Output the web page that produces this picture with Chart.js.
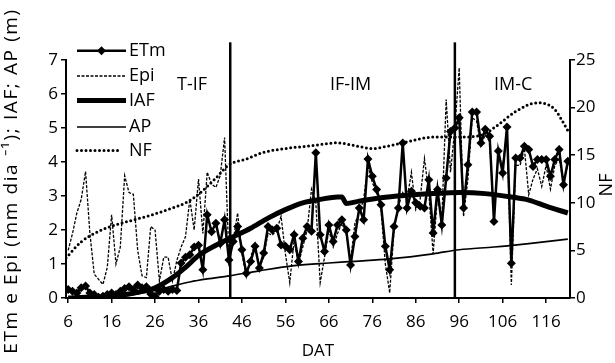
<!DOCTYPE html>
<html><head><meta charset="utf-8">
<script src="https://cdn.jsdelivr.net/npm/chart.js@4.4.1/dist/chart.umd.min.js"></script>
<style>html,body{margin:0;padding:0;background:#fff}#wrap{width:615px;height:363px}</style>
</head><body><div id="wrap"><canvas id="c" width="615" height="363"></canvas></div>
<script>
// ---- data ----
const dat = [6,7,8,9,10,11,12,13,14,15,16,17,18,19,20,21,22,23,24,25,26,27,28,29,30,31,32,33,34,35,36,37,38,39,40,41,42,43,44,45,46,47,48,49,50,51,52,53,54,55,56,57,58,59,60,61,62,63,64,65,66,67,68,69,70,71,72,73,74,75,76,77,78,79,80,81,82,83,84,85,86,87,88,89,90,91,92,93,94,95,96,97,98,99,100,101,102,103,104,105,106,107,108,109,110,111,112,113,114,115,116,117,118,119,120,121];
const etm = [0.25,0.2,0.15,0.3,0.35,0.15,0.1,0.02,0.05,0.1,0.15,0.1,0.2,0.28,0.33,0.25,0.38,0.3,0.33,0.12,0.05,0.2,0.25,0.2,0.25,0.22,1.03,1.2,1.27,1.5,1.55,0.83,2.45,1.95,2.2,1.6,2.3,1.12,1.66,2.1,1.42,0.73,1.07,1.52,0.88,1.32,2.1,2.0,2.05,1.56,1.52,1.42,1.86,1.07,1.76,2.1,1.96,4.27,1.86,1.37,2.15,1.66,2.15,2.3,2.0,0.97,1.81,2.65,2.3,4.09,3.58,3.19,2.74,1.52,0.83,2.1,2.65,4.56,2.65,3.14,2.8,2.7,2.65,3.48,1.91,3.19,2.15,3.53,4.9,5.0,5.3,2.65,3.92,5.47,5.47,4.56,4.96,4.76,2.25,4.32,3.68,5.03,1.02,4.12,4.12,4.46,4.37,3.87,4.07,4.07,4.07,3.58,4.07,4.37,3.33,4.02];
const epi = [1.4,1.9,2.5,2.9,3.72,1.9,0.7,0.55,0.4,0.9,2.45,1.0,1.5,3.6,3.1,3.05,1.4,0.65,0.6,2.1,2.0,0.5,1.2,1.2,0.5,1.1,1.5,1.8,2.9,2.0,3.5,1.9,3.7,3.35,3.25,3.6,4.72,1.2,1.7,2.5,1.3,0.63,1.2,1.6,0.9,1.2,1.9,1.85,2.0,2.4,1.3,0.45,1.7,1.0,1.5,2.0,3.2,2.8,0.45,1.2,2.0,1.5,1.9,2.2,1.9,1.1,2.2,2.5,2.9,3.9,3.4,3.1,2.6,1.0,0.15,2.0,2.7,3.1,2.9,3.7,2.6,2.9,4.1,3.1,1.3,3.0,2.3,5.84,3.7,5.0,6.77,2.4,3.5,5.3,5.2,4.5,4.8,4.6,2.4,4.2,3.9,4.9,0.38,3.9,3.9,4.4,3.04,3.5,3.8,3.28,3.9,3.2,3.9,4.1,3.4,3.9];
const iafDat = [6,10,14,18,22,26,30,33,36,40,44,48,52,56,60,64,68,69,70,73,78,84,90,96,102,108,112,116,121];
const iafVal = [0.0,0.02,0.03,0.08,0.17,0.3,0.6,0.9,1.25,1.55,1.8,2.05,2.35,2.6,2.8,2.9,2.97,2.97,2.78,2.85,2.95,3.02,3.07,3.1,3.07,2.97,2.88,2.7,2.5];
const apDat = [6,12,18,22,26,30,34,38,43,50,58,66,72,80,90,96,104,112,121];
const apVal = [0.01,0.02,0.06,0.12,0.22,0.35,0.47,0.56,0.65,0.8,0.95,1.03,1.08,1.15,1.3,1.42,1.5,1.6,1.73];
const nfDat = [5.5,9,13,17,21,25,29,33,36,40,43,47,51,56,62,68,72,76,80,84,90,96,101,105,109,114,116,118,121];
const nfVal = [4.2,5.9,7.0,7.7,8.2,8.7,9.3,10.0,10.9,12.6,14.0,14.6,15.3,15.7,16.0,16.3,16.0,15.7,16.0,16.4,16.9,16.9,17.1,18.2,19.6,20.5,20.4,19.8,17.6];
const phaseBounds = [43.3, 95];
const phaseNames = ['T-IF','IF-IM','IM-C'];
const phaseNameDat = [34.5, 71, 108.4];
const xTicks = [6,16,26,36,46,56,66,76,86,96,106,116];
const seriesNames = ['ETm','Epi','IAF','AP','NF'];
const leftTitle = 'ETm e Epi (mm dia \u207B\u00B9); IAF; AP (m)';
const rightTitle = 'NF';
const xTitle = 'DAT';

const FONT = "'Open Sans', sans-serif";
const pts = (xs, ys) => xs.map((x, i) => ({x: x, y: ys[i]}));

const extrasPlugin = {
  id: 'extras',
  afterDatasetsDraw(chart) {
    const ctx = chart.ctx;
    const xs = chart.scales.x, yl = chart.scales.y;
    const ca = chart.chartArea;
    ctx.save();
    ctx.fillStyle = '#000';
    ctx.font = '18px ' + FONT;
    ctx.textAlign = 'center';
    ctx.textBaseline = 'middle';
    phaseNames.forEach((n, i) => ctx.fillText(n, xs.getPixelForValue(phaseNameDat[i]), yl.getPixelForValue(6.28)));
    // right axis title
    ctx.save();
    ctx.translate(607, (ca.top + ca.bottom) / 2 + 6);
    ctx.rotate(-Math.PI / 2);
    ctx.fillText(rightTitle, 0, 0);
    ctx.restore();
    // left axis title
    ctx.save();
    ctx.translate(12, 181);
    ctx.rotate(-Math.PI / 2);
    ctx.font = '19px ' + FONT;
    if ('letterSpacing' in ctx) ctx.letterSpacing = '1.6px';
    ctx.fillText(leftTitle, 0, 0);
    ctx.restore();
    // legend
    const L = ca.left;
    const x0 = L + 11, x1 = L + 60, tx = L + 63;
    const ys = [50.7, 76, 100.5, 127, 150.5];
    ctx.strokeStyle = '#000';
    ctx.textAlign = 'left';
    ys.forEach((y, i) => {
      ctx.save();
      ctx.beginPath();
      if (i === 0) { ctx.lineWidth = 2.5; }
      if (i === 1) { ctx.lineWidth = 1.3; ctx.setLineDash([3, 1.5]); }
      if (i === 2) { ctx.lineWidth = 5; }
      if (i === 3) { ctx.lineWidth = 1.7; }
      if (i === 4) { ctx.lineWidth = 3; ctx.setLineDash([0, 4.5]); ctx.lineCap = 'round'; }
      ctx.moveTo(x0, y); ctx.lineTo(i === 4 ? x1 - 4 : x1, y);
      ctx.stroke();
      ctx.restore();
      if (i === 0) {
        const cx = (x0 + x1) / 2, r = 4.5;
        ctx.beginPath();
        ctx.moveTo(cx, y - r); ctx.lineTo(cx + r, y); ctx.lineTo(cx, y + r); ctx.lineTo(cx - r, y); ctx.closePath();
        ctx.fill();
      }
      ctx.fillText(seriesNames[i], tx, y);
    });
    ctx.restore();
  }
};

new Chart(document.getElementById('c'), {
  type: 'scatter',
  data: {
    datasets: [
      {label: seriesNames[0], data: pts(dat, etm), showLine: true, borderColor: '#000', backgroundColor: '#000', borderWidth: 2.5,
       pointStyle: 'rectRot', pointRadius: 4.5, pointBorderWidth: 0, yAxisID: 'y', order: 1},
      {label: seriesNames[1], data: pts(dat, epi), showLine: true, borderColor: '#000', borderWidth: 1.3, borderDash: [3, 1.5],
       pointRadius: 0, yAxisID: 'y', order: 2},
      {label: seriesNames[2], data: pts(iafDat, iafVal), showLine: true, borderColor: '#000', borderWidth: 5,
       cubicInterpolationMode: 'monotone', pointRadius: 0, yAxisID: 'y', order: 3},
      {label: seriesNames[3], data: pts(apDat, apVal), showLine: true, borderColor: '#000', borderWidth: 1.7,
       cubicInterpolationMode: 'monotone', pointRadius: 0, yAxisID: 'y', order: 4},
      {label: seriesNames[4], data: pts(nfDat, nfVal), showLine: true, borderColor: '#000', borderWidth: 3, borderDash: [0, 4.5],
       borderCapStyle: 'round', cubicInterpolationMode: 'monotone', pointRadius: 0, yAxisID: 'y2', order: 5},
      {label: 'b1', data: [{x: phaseBounds[0], y: 0}, {x: phaseBounds[0], y: 7.52}], showLine: true, borderColor: '#000', borderWidth: 2.5,
       pointRadius: 0, yAxisID: 'y', clip: false, order: 0},
      {label: 'b2', data: [{x: phaseBounds[1], y: 0}, {x: phaseBounds[1], y: 7.52}], showLine: true, borderColor: '#000', borderWidth: 2.5,
       pointRadius: 0, yAxisID: 'y', clip: false, order: 0}
    ]
  },
  options: {
    responsive: false, animation: false, devicePixelRatio: 1,
    layout: {padding: {top: 60, left: 0, right: 0, bottom: 0}},
    plugins: {legend: {display: false}, tooltip: {enabled: false}},
    scales: {
      x: {
        type: 'linear', min: 5.5, max: 121.5,
        afterBuildTicks: s => { s.ticks = xTicks.map(v => ({value: v})); },
        afterFit: s => { s.height = 65; },
        ticks: {color: '#000', font: {family: FONT, size: 17}, autoSkip: false, maxRotation: 0, padding: 9},
        grid: {drawOnChartArea: false, drawTicks: true, tickLength: 5, color: '#000', lineWidth: 1.5},
        border: {display: true, color: '#000', width: 2},
        title: {display: true, text: xTitle, color: '#000', font: {family: FONT, size: 17}, padding: {top: 0, bottom: 2}}
      },
      y: {
        position: 'left', min: 0, max: 7,
        afterFit: s => { s.width = 66; },
        ticks: {stepSize: 1, color: '#000', font: {family: FONT, size: 17}, padding: 3},
        grid: {drawOnChartArea: false, drawTicks: true, tickLength: 5, color: '#000', lineWidth: 1.5},
        border: {display: true, color: '#000', width: 2}
      },
      y2: {
        position: 'right', min: 0, max: 25,
        afterFit: s => { s.width = 45; },
        ticks: {stepSize: 5, color: '#000', font: {family: FONT, size: 17}, padding: 1},
        grid: {drawOnChartArea: false, drawTicks: true, tickLength: 5, color: '#000', lineWidth: 1.5},
        border: {display: true, color: '#000', width: 2}
      }
    }
  },
  plugins: [extrasPlugin]
});
</script>
</body></html>
